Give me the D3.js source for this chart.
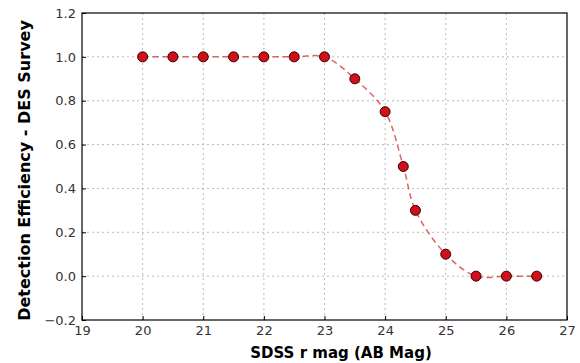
<!DOCTYPE html>
<html>
<head>
<meta charset="utf-8">
<script src="https://cdn.jsdelivr.net/npm/d3@7"></script>
<style>
  body { margin: 0; background: #fff; }
  svg { display: block; font-family: "DejaVu Sans", sans-serif; }
</style>
</head>
<body>
<div id="chart"></div>
<script>
const mags = [20, 20.5, 21, 21.5, 22, 22.5, 23, 23.5, 24, 24.3, 24.5, 25, 25.5, 26, 26.5];
const efficiency = [1, 1, 1, 1, 1, 1, 1, 0.9, 0.75, 0.5, 0.3, 0.1, 0, 0, 0];
const xTicks = [19, 20, 21, 22, 23, 24, 25, 26, 27];
const yTicks = [-0.2, 0.0, 0.2, 0.4, 0.6, 0.8, 1.0, 1.2];

const width = 580, height = 363;
const margin = { top: 13, right: 13, bottom: 43, left: 82 };

const svg = d3.select('#chart')
  .append('svg')
  .attr('width', width)
  .attr('height', height);

const x = d3.scaleLinear().domain([19, 27]).range([margin.left, width - margin.right]);
const y = d3.scaleLinear().domain([-0.2, 1.2]).range([height - margin.bottom, margin.top]);

// grid
svg.append('g')
  .selectAll('line')
  .data(xTicks.slice(1, -1))
  .enter()
  .append('line')
  .attr('x1', d => x(d)).attr('x2', d => x(d))
  .attr('y1', y(-0.2)).attr('y2', y(1.2))
  .attr('stroke', '#aaa').attr('stroke-width', 0.8)
  .attr('stroke-dasharray', '2,3');

svg.append('g')
  .selectAll('line')
  .data(yTicks.slice(1, -1))
  .enter()
  .append('line')
  .attr('y1', d => y(d)).attr('y2', d => y(d))
  .attr('x1', x(19)).attr('x2', x(27))
  .attr('stroke', '#aaa').attr('stroke-width', 0.8)
  .attr('stroke-dasharray', '2,3');

// axes, ticks pointing inward
const xAxis = svg.append('g')
  .attr('transform', 'translate(0,' + y(-0.2) + ')')
  .call(d3.axisBottom(x).tickValues(xTicks).tickFormat(d3.format('d')).tickSizeInner(-4).tickSizeOuter(0).tickPadding(6));
const yAxis = svg.append('g')
  .attr('transform', 'translate(' + x(19) + ',0)')
  .call(d3.axisLeft(y).tickValues(yTicks).tickFormat(d => d3.format('.1f')(d).replace('-', '\u2212')).tickSizeInner(-4).tickSizeOuter(0).tickPadding(6));

[xAxis, yAxis].forEach(g => {
  g.select('.domain').remove();
  g.selectAll('text').attr('font-size', 13).attr('fill', '#333').attr('font-family', '"DejaVu Sans", sans-serif');
  g.selectAll('line').attr('stroke', '#000');
});

// the data line
const line = d3.line()
  .x((d, i) => x(mags[i]))
  .y(d => y(d))
  .curve(d3.curveCatmullRom.alpha(0.5));

svg.append('path')
  .datum(efficiency)
  .attr('d', line)
  .attr('fill', 'none')
  .attr('stroke', '#cc3333')
  .attr('stroke-opacity', 0.75)
  .attr('stroke-width', 1.5)
  .attr('stroke-dasharray', '6,4');

svg.append('g')
  .selectAll('circle')
  .data(efficiency)
  .enter()
  .append('circle')
  .attr('cx', (d, i) => x(mags[i]))
  .attr('cy', d => y(d))
  .attr('r', 5)
  .attr('fill', '#d0101a')
  .attr('stroke', '#3a0000')
  .attr('stroke-width', 1);

// frame
svg.append('rect')
  .attr('x', x(19)).attr('y', y(1.2))
  .attr('width', x(27) - x(19)).attr('height', y(-0.2) - y(1.2))
  .attr('fill', 'none').attr('stroke', '#000').attr('stroke-width', 1.2);

// labels
svg.append('text')
  .attr('x', 341)
  .attr('y', 358)
  .attr('text-anchor', 'middle')
  .attr('font-size', 15)
  .attr('font-weight', 'bold')
  .text('SDSS r mag (AB Mag)');

svg.append('text')
  .attr('transform', 'translate(30,' + ((y(-0.2) + y(1.2)) / 2 + 4) + ') rotate(-90)')
  .attr('text-anchor', 'middle')
  .attr('font-size', 16)
  .attr('font-weight', 'bold')
  .text('Detection Efficiency - DES Survey');
</script>
</body>
</html>
